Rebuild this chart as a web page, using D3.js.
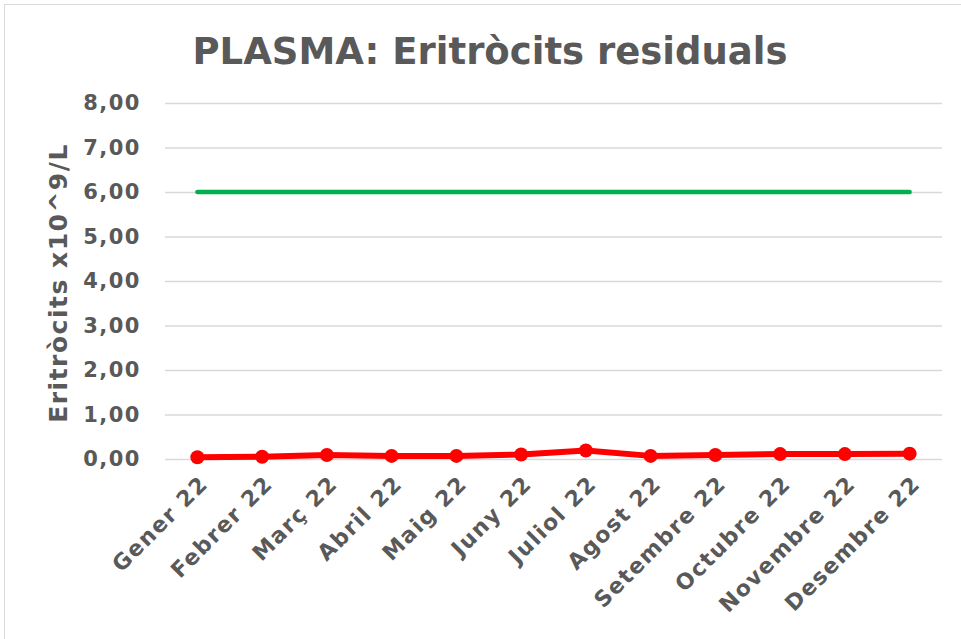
<!DOCTYPE html>
<html>
<head>
<meta charset="utf-8">
<script src="https://cdn.jsdelivr.net/npm/d3@7"></script>
<style>
  body { margin: 0; background: #fff; }
  text { font-family: "DejaVu Sans", Verdana, sans-serif; font-weight: bold; fill: #595959; }
</style>
</head>
<body>
<script>
// chart data
var months = ["Gener 22", "Febrer 22", "Març 22", "Abril 22", "Maig 22", "Juny 22",
              "Juliol 22", "Agost 22", "Setembre 22", "Octubre 22", "Novembre 22", "Desembre 22"];
var residual = [0.04, 0.05, 0.09, 0.07, 0.07, 0.10, 0.19, 0.07, 0.09, 0.11, 0.11, 0.12];
var limit = [6, 6, 6, 6, 6, 6, 6, 6, 6, 6, 6, 6];
var yTicks = [0, 1, 2, 3, 4, 5, 6, 7, 8];

var W = 961, H = 639;
var margin = {top: 103, right: 19, bottom: 180, left: 165};
var width = W - margin.left - margin.right;
var height = H - margin.top - margin.bottom;

var svg = d3.select("body").append("svg")
    .attr("width", W)
    .attr("height", H);

// outer frame
svg.append("rect")
    .attr("x", 4.5).attr("y", 4.5)
    .attr("width", W).attr("height", H)
    .attr("fill", "none")
    .attr("stroke", "#d9d9d9");

svg.append("text")
    .attr("x", 490).attr("y", 64)
    .attr("text-anchor", "middle")
    .style("font-size", "37px")
    .text("PLASMA: Eritròcits residuals");

var g = svg.append("g")
    .attr("transform", "translate(" + margin.left + "," + margin.top + ")");

var x = d3.scaleBand().domain(months).range([0, width]);
var y = d3.scaleLinear().domain([0, 8]).range([height, 0]);
var fmt = function(v) { return d3.format(".2f")(v).replace(".", ","); };

// gridlines + y labels
var yAxis = g.append("g")
    .call(d3.axisLeft(y).tickValues(yTicks).tickSize(-width).tickFormat(fmt).tickPadding(24));
yAxis.select(".domain").remove();
yAxis.selectAll("line").attr("stroke", "#d9d9d9").attr("stroke-width", 1.5);
yAxis.selectAll("text")
    .style("font-size", "21px")
    .style("letter-spacing", "1.5px")
    .attr("fill", "#595959");

// x labels
var xAxis = g.append("g")
    .attr("transform", "translate(0," + height + ")")
    .call(d3.axisBottom(x).tickSize(0).tickPadding(0));
xAxis.select(".domain").remove();
xAxis.selectAll("text")
    .style("font-size", "22px")
    .style("letter-spacing", "1.5px")
    .attr("fill", "#595959")
    .attr("text-anchor", "end")
    .attr("dy", 0)
    .attr("transform", "translate(12,26) rotate(-45)");

svg.append("text")
    .attr("transform", "translate(67," + (margin.top + height / 2 + 2) + ") rotate(-90)")
    .attr("text-anchor", "middle")
    .style("font-size", "25px")
    .style("letter-spacing", "1.5px")
    .text("Eritròcits x10^9/L");

var cx = function(d, i) { return x(months[i]) + x.bandwidth() / 2; };

var line = d3.line()
    .x(function(d, i) { return cx(d, i); })
    .y(function(d) { return y(d); });

g.append("path")
    .datum(limit)
    .attr("d", line)
    .attr("fill", "none")
    .attr("stroke", "#00b050")
    .attr("stroke-width", 4.5)
    .attr("stroke-linecap", "round");

g.append("path")
    .datum(residual)
    .attr("d", line)
    .attr("fill", "none")
    .attr("stroke", "#ff0000")
    .attr("stroke-width", 6)
    .attr("stroke-linejoin", "round");

g.selectAll(".pt").data(residual)
    .enter().append("circle")
    .attr("class", "pt")
    .attr("cx", cx)
    .attr("cy", function(d) { return y(d); })
    .attr("r", 7)
    .attr("fill", "#ff0000");
</script>
</body>
</html>
